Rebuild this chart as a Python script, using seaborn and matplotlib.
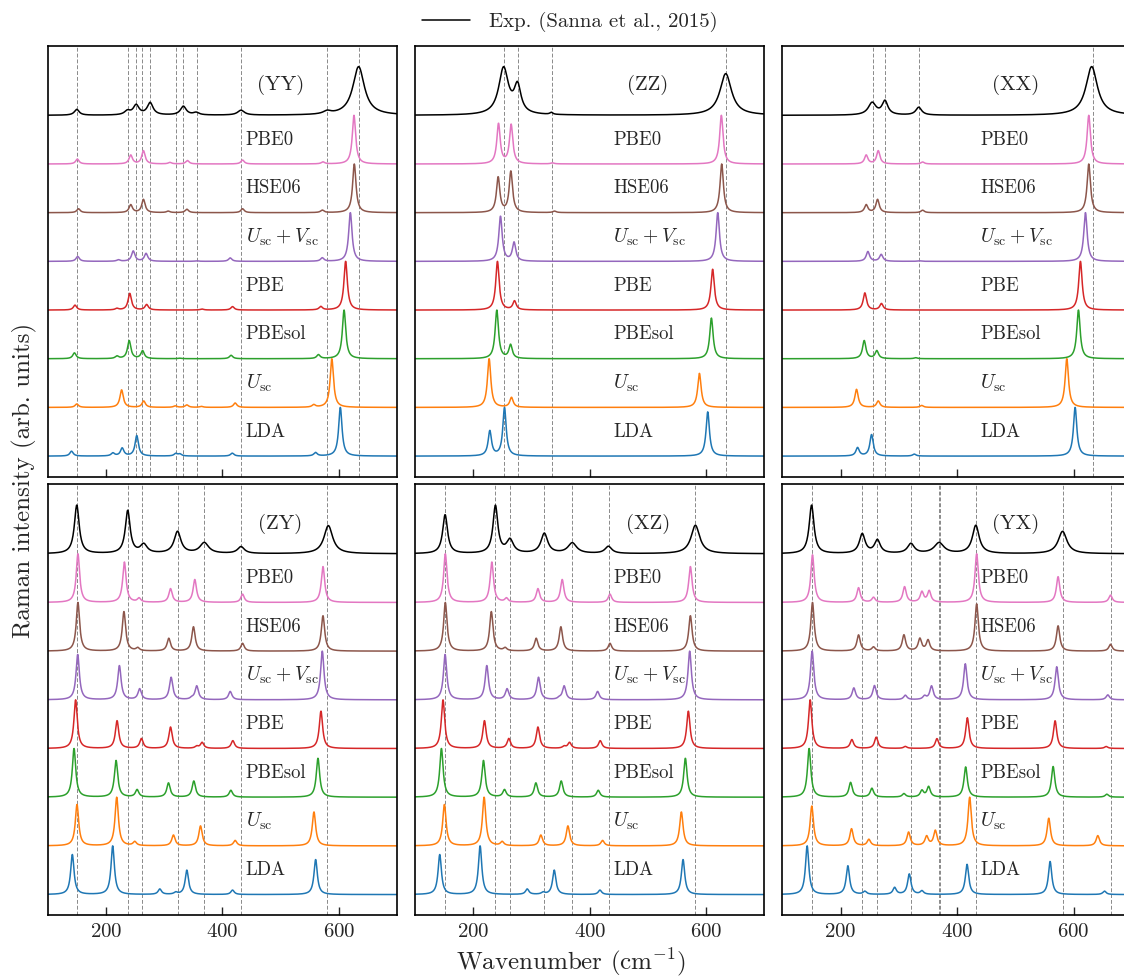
import numpy as np
import matplotlib
matplotlib.use("Agg")
import matplotlib.pyplot as plt
import seaborn as sns
from matplotlib.lines import Line2D

# wavenumber grid (cm^-1)
WAVENUMBER = np.linspace(100, 700, 1201)

LABELS = ["LDA", r"$U_\mathrm{sc}$", "PBEsol", "PBE",
          r"$U_\mathrm{sc} + V_\mathrm{sc}$", "HSE06", "PBE0"]
COLORS = ["tab:blue", "tab:orange", "tab:green", "tab:red",
          "tab:purple", "tab:brown", "tab:pink"]
PANELS = ["(YY)", "(ZZ)", "(XX)", "(ZY)", "(XZ)", "(YX)"]
CALC_WIDTH = 3.5

# experimental peaks: position, height, half width
YY_EXP = ([150, 237, 252, 276, 333, 355, 432, 580, 634],
          [0.12, 0.08, 0.2, 0.25, 0.18, 0.05, 0.1, 0.06, 1.0],
          [5, 6, 6, 6, 6, 6, 7, 8, 12])
ZZ_EXP = ([252, 276, 334, 633.5], [0.95, 0.55, 0.04, 0.85], [10, 7, 3, 12])
XX_EXP = ([254, 276, 334, 631], [0.25, 0.28, 0.16, 1.0], [8, 6, 6, 12])
ZY_EXP = ([150, 237.5, 265, 323, 369, 432, 582],
          [1.0, 0.88, 0.18, 0.45, 0.22, 0.14, 0.58], [5, 5, 7, 7, 9, 7, 9])
XZ_EXP = ([151.6, 238, 263, 322, 370, 432, 581.4],
          [0.82, 1.0, 0.28, 0.42, 0.22, 0.15, 0.6], [5, 5, 7, 7, 9, 7, 9])
YX_EXP = ([150, 237, 263, 320.6, 369, 432, 581],
          [1.0, 0.4, 0.27, 0.2, 0.22, 0.58, 0.46], [5, 6, 6, 7, 10, 7, 9])

# calculated peaks per method (LDA ... PBE0): positions, heights
YY_CALC = [
    ([141, 212, 228, 253, 320, 327, 417, 560, 602.6], [0.1, 0.06, 0.16, 0.42, 0.05, 0.04, 0.06, 0.07, 1.0]),
    ([150, 227, 265, 319, 339, 364, 422, 557, 588], [0.07, 0.36, 0.13, 0.03, 0.05, 0.02, 0.09, 0.05, 1.0]),
    ([146, 219, 240, 263, 327, 415, 565, 609], [0.12, 0.05, 0.37, 0.16, 0.01, 0.07, 0.08, 1.0]),
    ([147, 219, 241, 270, 365, 417.5, 569, 611.7], [0.1, 0.03, 0.34, 0.11, 0.02, 0.07, 0.07, 1.0]),
    ([151.6, 221.5, 247, 269, 356, 413.5, 571.6, 619.8], [0.1, 0.03, 0.21, 0.16, 0.01, 0.07, 0.07, 1.0]),
    ([153, 242.7, 264.5, 307, 339, 434.7, 571.6, 626.6], [0.08, 0.16, 0.27, 0.03, 0.07, 0.08, 0.05, 1.0]),
    ([151, 242.7, 264.5, 310, 340, 434.7, 572.8, 626], [0.1, 0.18, 0.27, 0.03, 0.07, 0.08, 0.04, 1.0]),
]
ZZ_CALC = [
    ([228.4, 253.6, 602.6], [0.5, 0.97, 0.89]),
    ([227.2, 265.6, 588.3], [1.0, 0.2, 0.7]),
    ([240.4, 264, 608.9], [1.0, 0.28, 0.84]),
    ([241.5, 270.8, 611], [1.0, 0.18, 0.84]),
    ([246.7, 270, 619.8], [0.92, 0.38, 1.0]),
    ([242.7, 264.5, 339.5, 626.6], [0.72, 0.84, 0.03, 1.0]),
    ([243.3, 265, 336, 626], [0.82, 0.8, 0.02, 1.0]),
]
XX_CALC = [
    ([229, 253, 326.4, 602.6], [0.17, 0.44, 0.04, 1.0]),
    ([227.2, 264.5, 339, 588.3], [0.37, 0.13, 0.04, 1.0]),
    ([240.4, 262, 329, 608.3], [0.37, 0.16, 0.02, 1.0]),
    ([241.5, 270, 611.7], [0.35, 0.13, 1.0]),
    ([246.7, 269.6, 335, 620.3], [0.2, 0.14, 0.01, 1.0]),
    ([243.8, 263.3, 340.7, 626], [0.16, 0.27, 0.05, 1.0]),
    ([243.8, 264.5, 340.7, 626], [0.18, 0.27, 0.04, 1.0]),
]
ZY_CALC = [
    ([142.4, 211.7, 292.6, 320, 339, 417.5, 560.2], [0.82, 1.0, 0.11, 0.04, 0.5, 0.09, 0.72]),
    ([150.4, 218.6, 249.6, 316, 362.5, 422, 557.3], [0.85, 1.0, 0.08, 0.22, 0.41, 0.11, 0.7]),
    ([145.3, 217.5, 253.6, 307.5, 351, 414.6, 564.2], [1.0, 0.75, 0.15, 0.29, 0.33, 0.14, 0.8]),
    ([148, 219.2, 261, 311, 356, 365.3, 418, 569.3], [1.0, 0.57, 0.2, 0.44, 0.04, 0.12, 0.16, 0.77]),
    ([151.6, 223.2, 258, 312, 347.6, 356, 413.5, 571.6], [0.93, 0.7, 0.22, 0.46, 0.03, 0.28, 0.17, 1.0]),
    ([152, 231, 254.7, 308, 350.4, 434.7, 572.8], [1.0, 0.81, 0.06, 0.26, 0.5, 0.16, 0.73]),
    ([152, 231.8, 257, 311, 352.7, 434.7, 572.8], [1.0, 0.83, 0.08, 0.28, 0.47, 0.17, 0.74]),
]
XZ_CALC = ZY_CALC
YX_CALC = [
    ([142.4, 212.3, 241.5, 292.6, 317.8, 339.5, 417, 559.6, 653], [1.0, 0.59, 0.06, 0.14, 0.42, 0.07, 0.62, 0.68, 0.07]),
    ([150.4, 218.6, 248.4, 316.6, 347.6, 362.5, 421.5, 557.3, 641.5], [0.82, 0.35, 0.13, 0.28, 0.19, 0.31, 1.0, 0.57, 0.21]),
    ([145.8, 217, 253.6, 308.6, 339.5, 351, 414.6, 564.8, 657], [1.0, 0.3, 0.18, 0.07, 0.13, 0.21, 0.62, 0.63, 0.06]),
    ([147.6, 219.2, 261, 311, 365.3, 417.5, 568.2, 655.9], [1.0, 0.18, 0.23, 0.04, 0.2, 0.63, 0.57, 0.04]),
    ([151, 222.6, 258, 311, 344, 356, 414, 571, 658.7], [1.0, 0.24, 0.29, 0.09, 0.07, 0.28, 0.74, 0.68, 0.1]),
    ([151.6, 230.7, 256.4, 308.6, 336, 350, 433.5, 573.3, 663.3], [1.0, 0.33, 0.08, 0.33, 0.25, 0.22, 0.97, 0.52, 0.14]),
    ([151.6, 230.7, 256.4, 309.7, 339.5, 352, 433.5, 573.3, 663.3], [0.98, 0.3, 0.1, 0.32, 0.21, 0.23, 1.0, 0.53, 0.15]),
]

# dashed guide lines at experimental peak positions
YY_LINES = [150.4, 237.5, 251.9, 261.6, 275.9, 320, 333.2, 355.6, 432.4, 579.7, 634.1]
ZZ_LINES = [252.4, 276, 334.4, 633.5]
XX_LINES = [255, 276, 334, 633]
ZY_LINES = [150.4, 237.5, 262.8, 323, 369.3, 432.4, 579]
XZ_LINES = [151.6, 238, 262.2, 321.8, 370, 432.4, 581.4]
YX_LINES = [149.9, 237, 262.8, 320.6, 368.5, 370, 432.4, 581.4, 664.5]

EXPS = [YY_EXP, ZZ_EXP, XX_EXP, ZY_EXP, XZ_EXP, YX_EXP]
CALCS = [YY_CALC, ZZ_CALC, XX_CALC, ZY_CALC, XZ_CALC, YX_CALC]
LINES = [YY_LINES, ZZ_LINES, XX_LINES, ZY_LINES, XZ_LINES, YX_LINES]


def lorentz_spectrum(pos, amp, width):
    width = np.broadcast_to(np.asarray(width, dtype=float), np.shape(pos))
    y = np.zeros_like(WAVENUMBER)
    for p, a, w in zip(pos, amp, width):
        y += a * w ** 2 / ((WAVENUMBER - p) ** 2 + w ** 2)
    return y / y.max()


sns.set_theme(style="ticks")
plt.rcParams.update({
    "font.family": ["cmr10"],
    "mathtext.fontset": "cm",
    "axes.formatter.use_mathtext": True,
    "axes.unicode_minus": False,
    "axes.edgecolor": "black",
    "axes.linewidth": 1.2,
})

fig, axes = plt.subplots(2, 3, figsize=(11.24, 9.76), dpi=100)
fig.subplots_adjust(left=0.0424, right=1.007, top=0.9532, bottom=0.0625,
                    wspace=0.0515, hspace=0.0176)

for k, ax in enumerate(axes.flat):
    for xv in LINES[k]:
        ax.axvline(xv, color="#8a8a8a", lw=0.7, ls=(0, (4, 2)), zorder=0)

    for i, (pos, amp) in enumerate(CALCS[k]):
        spec = lorentz_spectrum(pos, amp, CALC_WIDTH)
        sns.lineplot(x=WAVENUMBER, y=spec + i, color=COLORS[i], lw=1.1,
                     ax=ax, estimator=None, legend=False)
        size = 14.2 if LABELS[i].startswith("$") else 13.5
        ax.text(440, i + 0.5, LABELS[i], fontsize=size, va="center", ha="left")

    pos, amp, wid = EXPS[k]
    exp_spec = lorentz_spectrum(pos, amp, wid)
    sns.lineplot(x=WAVENUMBER, y=exp_spec + 7, color="black", lw=1.1,
                 ax=ax, estimator=None, legend=False)
    ax.text(500, 7.62, PANELS[k], fontsize=15, va="center", ha="center")

    ax.set_xlim(100, 700)
    ax.set_ylim(-0.42, 8.43)
    ax.set_xticks([200, 400, 600])
    ax.set_yticks([])
    ax.set_xlabel("")
    ax.set_ylabel("")
    ax.tick_params(axis="x", direction="in", length=6, width=1.0,
                   labelsize=15, pad=6)
    if k < 3:
        ax.tick_params(labelbottom=False)

fig.text(24 / 1124, 1 - 480 / 976, "Raman intensity (arb. units)",
         rotation=90, va="center", ha="center", fontsize=18)
fig.text(571 / 1124, 1 - 962 / 976, r"Wavenumber (cm$^{-1}$)",
         va="center", ha="center", fontsize=18)

handle = Line2D([], [], color="black", lw=1.1)
fig.legend([handle], ["Exp. (Sanna et al., 2015)"], loc="center",
           bbox_to_anchor=(570 / 1124, 1 - 22 / 976), frameon=False,
           fontsize=15, handlelength=2.3, handletextpad=0.9)

fig.savefig("out.png", dpi=100)
